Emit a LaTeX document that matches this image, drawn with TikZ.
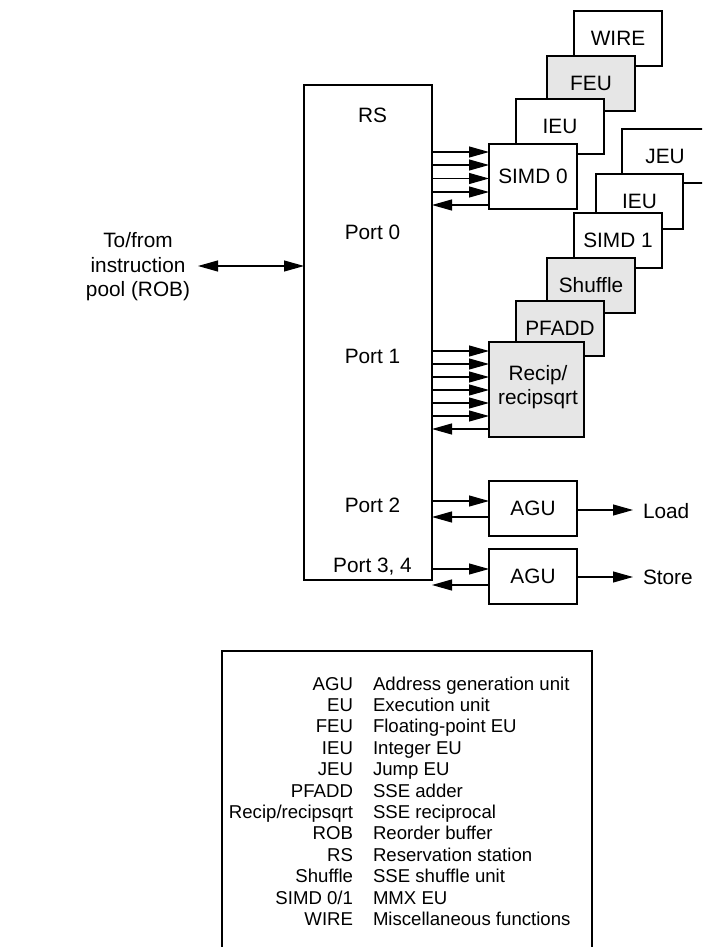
\documentclass[tikz,border=0pt]{standalone}
\usepackage{fontspec}
\setmainfont{Liberation Sans}
\usetikzlibrary{arrows.meta}
\definecolor{unitgray}{RGB}{230,230,230}
\begin{document}
\begin{tikzpicture}[x=1pt,y=-1pt,
  every node/.style={inner sep=0pt, outer sep=0pt},
  dfont/.style={font=\fontsize{20.8}{24.5}\selectfont},
  lfont/.style={font=\fontsize{18.6}{21.4}\selectfont},
  unitbox/.style={draw, line width=1.1pt, fill=white, dfont, text height=14.9pt, text depth=0pt},
  graybox/.style={unitbox, fill=unitgray},
  arr/.style={line width=1.1pt, -{Triangle[length=20pt,width=11pt]}},
  dblarr/.style={line width=1.1pt, {Triangle[length=20pt,width=11pt]}-{Triangle[length=20pt,width=11pt]}},
]
\useasboundingbox (0,0) rectangle (702,947);
\clip (0,0) rectangle (702,947);

% Reservation station
\node[draw, line width=1.1pt, minimum width=128pt, minimum height=495pt] (rs) at (368,332.5) {};
\node[dfont, anchor=base] (rslab) at (372.5,122.5) {RS};
\node[dfont, anchor=base] (p0) at (372.5,239.2) {Port 0};
\node[dfont, anchor=base] (p1) at (372.5,363.5) {Port 1};
\node[dfont, anchor=base] (p2) at (372.5,512.5) {Port 2};
\node[dfont, anchor=base] (p34) at (372.5,572.5) {Port 3, 4};

% Port 0 stack (back to front)
\node[unitbox, minimum width=88pt, minimum height=55pt] (wire) at (618,38.5) {WIRE};
\node[graybox, minimum width=88pt, minimum height=55pt] (feu) at (591,83.5) {FEU};
\node[unitbox, minimum width=88pt, minimum height=55pt] (ieua) at (560,126.5) {IEU};
\node[unitbox, minimum width=88pt, minimum height=65pt] (simda) at (533,176.5) {SIMD 0};

% Port 1 stack (back to front)
\node[unitbox, minimum width=86pt, minimum height=54pt] (jeu) at (665,156) {JEU};
\node[unitbox, minimum width=87pt, minimum height=55pt] (ieub) at (639.5,201.5) {IEU};
\node[unitbox, minimum width=88pt, minimum height=55pt] (simdb) at (618,240.5) {SIMD 1};
\node[graybox, minimum width=88pt, minimum height=55pt] (shuf) at (591,285.5) {Shuffle};
\node[graybox, minimum width=88pt, minimum height=55pt] (pfadd) at (560,328.5) {PFADD};
\node[graybox, minimum width=95pt, minimum height=95pt] (recip) at (536.5,389.5) {};
\node[dfont, anchor=base] (recipa) at (538,380) {Recip/};
\node[dfont, anchor=base] (recipb) at (538,404) {recipsqrt};

% AGUs
\node[unitbox, minimum width=88pt, minimum height=55pt] (agua) at (533,508.5) {AGU};
\node[unitbox, minimum width=88pt, minimum height=55pt] (agub) at (533,576.5) {AGU};
\node[dfont, anchor=base west] (load) at (643,518) {Load};
\node[dfont, anchor=base west] (store) at (643,584.5) {Store};
\coordinate (loadtip) at (633,510);
\coordinate (storetip) at (633,577);
\draw[arr] (agua.east |- loadtip) -- (loadtip);
\draw[arr] (agub.east |- storetip) -- (storetip);

% Port connections
\foreach \yy in {152,165,178.5,192} {\draw[arr] (rs.east |- 0,\yy) -- (simda.west |- 0,\yy);}
\draw[arr] (simda.west |- 0,205) -- (rs.east |- 0,205);
\foreach \yy in {351,364,377,390,403,416} {\draw[arr] (rs.east |- 0,\yy) -- (recip.west |- 0,\yy);}
\draw[arr] (recip.west |- 0,429) -- (rs.east |- 0,429);
\draw[arr] (rs.east |- 0,501) -- (agua.west |- 0,501);
\draw[arr] (agua.west |- 0,517) -- (rs.east |- 0,517);
\draw[arr] (rs.east |- 0,569) -- (agub.west |- 0,569);
\draw[arr] (agub.west |- 0,585) -- (rs.east |- 0,585);

% Instruction pool
\node[dfont, anchor=base] (tf1) at (138,247.5) {To/from};
\node[dfont, anchor=base] (tf2) at (138,272) {instruction};
\node[dfont, anchor=base] (tf3) at (138,296.5) {pool (ROB)};
\coordinate (pooltip) at (198,266);
\draw[dblarr] (pooltip) -- (rs.west |- pooltip);

% Legend
\draw[line width=1.1pt] (222,965) -- (222,651) -- (592,651) -- (592,965);
\foreach \a/\d [count=\i from 0] in {AGU/Address generation unit, EU/Execution unit, FEU/Floating-point EU, IEU/Integer EU, JEU/Jump EU, PFADD/SSE adder, {Recip/recipsqrt}/SSE reciprocal, ROB/Reorder buffer, RS/Reservation station, Shuffle/SSE shuffle unit, {SIMD 0/1}/MMX EU, WIRE/Miscellaneous functions}
{
  \node[lfont, anchor=base east] (ab\i) at (353,690+21.4*\i) {\a};
  \node[lfont, anchor=base west] (de\i) at (373,690+21.4*\i) {\d};
}
\end{tikzpicture}
\end{document}
